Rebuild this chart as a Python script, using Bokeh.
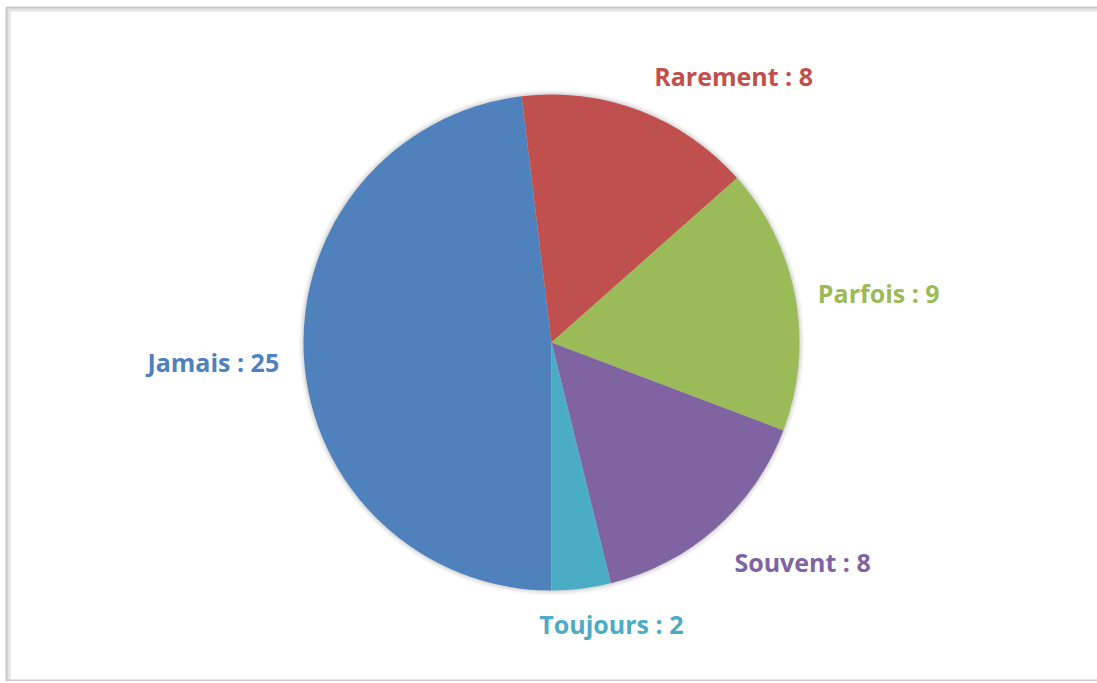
import math
from bokeh.plotting import figure
from bokeh.models import Range1d, ColumnDataSource
from bokeh.core.properties import value
from bokeh.embed import file_html
from bokeh.resources import INLINE

categories = ["Jamais", "Rarement", "Parfois", "Souvent", "Toujours"]
counts = [25, 8, 9, 8, 2]
colors = ["#4F81BD", "#C0504D", "#9BBB59", "#8064A2", "#4BACC6"]

# layout only: small label nudges in screen pixels (dx, dy; dy positive = up)
label_nudge = [(0, -3), (6, -6), (-2, 0), (2, 2), (27, 6)]

W, H = 1097, 681
CX, CY, R = 551, H - 342, 248
START_CW = 180.0  # first slice starts at 6 o'clock, going clockwise

p = figure(width=W, height=H, output_backend="svg", toolbar_location=None,
           x_range=Range1d(0, W), y_range=Range1d(0, H), min_border=0)
p.axis.visible = False
p.grid.visible = False
p.outline_line_color = None
p.background_fill_color = "white"
p.border_fill_color = "white"

# chart frame with soft shadow
p.quad(left=[8], right=[W + 20], top=[H - 9], bottom=[-2], fill_color=None,
       line_color="#e4e4e4", line_width=4)
p.quad(left=[6], right=[W + 20], top=[H - 7], bottom=[1], fill_color=None,
       line_color="#c8c8c8", line_width=2)

total = sum(counts)
starts, ends, mids = [], [], []
cum = START_CW
for c in counts:
    a0 = cum
    a1 = cum + 360.0 * c / total
    starts.append(math.radians(90 - a0))
    ends.append(math.radians(90 - a1))
    mids.append(math.radians((a0 + a1) / 2))
    cum = a1

# soft shadow around the pie
for k, al in [(5, 0.04), (4, 0.05), (3, 0.06), (2, 0.08), (1, 0.10)]:
    p.circle(x=[CX], y=[CY], radius=R + k, fill_color="#808080", fill_alpha=al, line_color=None)

src = ColumnDataSource(dict(start=starts, end=ends, color=colors))
p.wedge(x=CX, y=CY, radius=R, start_angle="start", end_angle="end", direction="clock",
        fill_color="color", line_color=None, source=src)

lx, ly, la, lb, lt = [], [], [], [], []
for cat, c, m, (dx, dy) in zip(categories, counts, mids, label_nudge):
    s, co = math.sin(m), math.cos(m)
    lx.append(CX + 1.1 * R * s + dx)
    ly.append(CY + 1.1 * R * co + dy)
    la.append("left" if s > 0.3 else ("right" if s < -0.3 else "center"))
    lb.append("bottom" if co > 0.3 else ("top" if co < -0.3 else "middle"))
    lt.append(f"{cat} : {c}")

lsrc = ColumnDataSource(dict(x=lx, y=ly, t=lt, a=la, b=lb, color=colors))
p.text(x="x", y="y", text="t", text_align="a", text_baseline="b", text_color="color",
       text_font=value("Open Sans"), text_font_style="bold", text_font_size="25px",
       source=lsrc)

open("out.html", "w").write(file_html(p, INLINE))
